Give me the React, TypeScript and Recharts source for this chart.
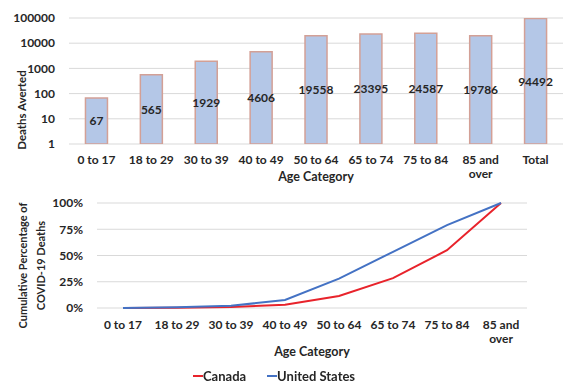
import React from 'react';
import {
  BarChart,
  Bar,
  LineChart,
  Line,
  XAxis,
  YAxis,
  CartesianGrid,
  LabelList,
  Label,
  Legend,
} from 'recharts';

const AGE_GROUPS = ['0 to 17', '18 to 29', '30 to 39', '40 to 49', '50 to 64', '65 to 74', '75 to 84', '85 and over', 'Total'];
const DEATHS_AVERTED = [67, 565, 1929, 4606, 19558, 23395, 24587, 19786, 94492];
const LOG_TICKS = [1, 10, 100, 1000, 10000, 100000];

const LINE_AGE_GROUPS = ['0 to 17', '18 to 29', '30 to 39', '40 to 49', '50 to 64', '65 to 74', '75 to 84', '85 and over'];
const CANADA_PCT = [0, 0.3, 0.9, 3, 11.5, 28.5, 55, 100];
const US_PCT = [0, 0.7, 2.1, 7.6, 28, 53.5, 79, 100];
const PCT_TICKS = [0, 25, 50, 75, 100];

const FONT = 'Lato, "Open Sans", sans-serif';
const TEXT = '#262626';
const GRID = '#d9d9d9';
const RED = '#e8232b';
const BLUE = '#4472c4';

const barData = AGE_GROUPS.map((age, i) => ({ age, deaths: DEATHS_AVERTED[i] }));
const lineData = LINE_AGE_GROUPS.map((age, i) => ({ age, canada: CANADA_PCT[i], us: US_PCT[i] }));

const SERIES = [
  { key: 'canada', name: 'Canada', color: RED },
  { key: 'us', name: 'United States', color: BLUE },
];

// "85 and over" wraps onto two lines in the original
const AgeTick = ({ x, y, payload, dy = 18 }: any) => {
  const lines = String(payload.value).replace('and ', 'and\n').split('\n');
  return (
    <text x={x} y={y} textAnchor="middle" fill={TEXT} fontSize={12} fontWeight={700} fontFamily={FONT}>
      {lines.map((l, i) => (
        <tspan key={i} x={x} dy={i === 0 ? dy : 14}>
          {l}
        </tspan>
      ))}
    </text>
  );
};

const SideTitle = ({ viewBox, lines, dx, dy, size = 11 }: any) => {
  const cx = viewBox.x + dx;
  const cy = viewBox.y + viewBox.height / 2 + dy;
  return (
    <text
      transform={`rotate(-90, ${cx}, ${cy})`}
      x={cx}
      y={cy}
      textAnchor="middle"
      fill={TEXT}
      fontSize={size}
      fontWeight={700}
      fontFamily={FONT}
    >
      {lines.map((l: string, i: number) => (
        <tspan key={i} x={cx} dy={i === 0 ? 4 - ((lines.length - 1) * 18) / 2 : 18}>
          {l}
        </tspan>
      ))}
    </text>
  );
};

const LegendRow = () => (
  <div
    style={{
      height: 25,
      boxSizing: 'border-box',
      paddingTop: 11,
      paddingLeft: 193,
      display: 'flex',
      alignItems: 'center',
      fontFamily: FONT,
      fontWeight: 700,
      fontSize: 13,
      lineHeight: '14px',
      color: TEXT,
    }}
  >
    {SERIES.map((s, i) => (
      <span key={s.key} style={{ display: 'flex', alignItems: 'center', marginRight: i === 0 ? 21 : 0 }}>
        <span style={{ display: 'inline-block', width: 10, height: 2, background: s.color }} />
        <span>{s.name}</span>
      </span>
    ))}
  </div>
);

const tickStyle = { fill: TEXT, fontSize: 12, fontWeight: 700, fontFamily: FONT };

export default function App() {
  return (
    <div style={{ position: 'fixed', left: 0, top: 0, width: 569, height: 383, background: '#fff' }}>
      <BarChart
        width={569}
        height={190}
        data={barData}
        margin={{ top: 18, right: 6, bottom: 0, left: 0 }}
        barCategoryGap="30%"
      >
        <CartesianGrid vertical={false} stroke={GRID} />
        <XAxis
          dataKey="age"
          height={46}
          axisLine={false}
          tickLine={false}
          tickSize={0}
          interval={0}
          tick={<AgeTick dy={18} />}
        >
          <Label
            value="Age Category"
            position="insideBottom"
            offset={9}
            fill={TEXT}
            fontSize={12.5}
            fontWeight={700}
            fontFamily={FONT}
          />
        </XAxis>
        <YAxis
          scale="log"
          domain={[1, 100000]}
          ticks={LOG_TICKS}
          allowDataOverflow
          width={69}
          axisLine={false}
          tickLine={false}
          tickSize={0}
          tickMargin={14}
          tick={tickStyle}
          label={<SideTitle lines={['Deaths Averted']} dx={22} dy={29} size={11.5} />}
        />
        <Bar dataKey="deaths" fill="#b4c7e7" stroke="#d3a096" strokeWidth={1.5} isAnimationActive={false}>
          <LabelList
            dataKey="deaths"
            position="center"
            fill={TEXT}
            fontSize={12}
            fontWeight={700}
            fontFamily={FONT}
          />
        </Bar>
      </BarChart>

      <LineChart
        width={569}
        height={193}
        data={lineData}
        margin={{ top: 13, right: 42, bottom: 0, left: 0 }}
      >
        <CartesianGrid vertical={false} stroke={GRID} />
        <XAxis
          dataKey="age"
          height={50}
          axisLine={false}
          tickLine={false}
          tickSize={0}
          interval={0}
          padding={{ left: 26, right: 26 }}
          tick={<AgeTick dy={19} />}
        >
          <Label
            value="Age Category"
            position="insideBottom"
            offset={2}
            fill={TEXT}
            fontSize={12.5}
            fontWeight={700}
            fontFamily={FONT}
          />
        </XAxis>
        <YAxis
          domain={[0, 100]}
          ticks={PCT_TICKS}
          width={97}
          axisLine={false}
          tickLine={false}
          tickSize={0}
          tickMargin={14}
          tick={tickStyle}
          tickFormatter={(v: number) => `${v}%`}
          label={<SideTitle lines={['Cumulative Percentage of', 'COVID-19 Deaths']} dx={32} dy={10} size={11} />}
        />
        <Legend verticalAlign="bottom" content={() => <LegendRow />} />
        {SERIES.map(s => (
          <Line
            key={s.key}
            type="linear"
            dataKey={s.key}
            name={s.name}
            stroke={s.color}
            strokeWidth={2}
            dot={false}
            isAnimationActive={false}
          />
        ))}
      </LineChart>
    </div>
  );
}
